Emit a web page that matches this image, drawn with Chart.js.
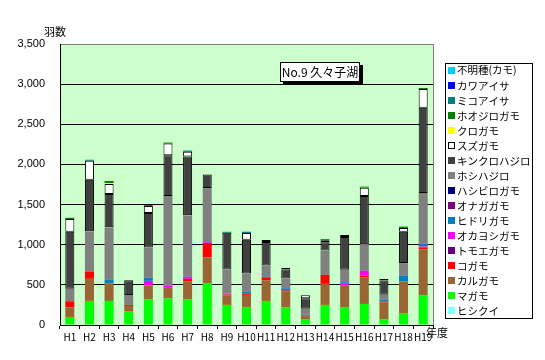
<!DOCTYPE html>
<html>
<head>
<meta charset="utf-8">
<script src="https://cdn.jsdelivr.net/npm/chart.js@4"></script>
<style>
  html, body { margin: 0; padding: 0; background: #fff; }
  #wrap { width: 545px; height: 360px; }
</style>
</head>
<body>
<div id="wrap"><canvas id="myChart" width="545" height="360"></canvas></div>
<script>
var years = ["H1","H2","H3","H4","H5","H6","H7","H8","H9","H10","H11","H12","H13","H14","H15","H16","H17","H18","H19"];
var yTicks = [0, 500, 1000, 1500, 2000, 2500, 3000, 3500];

// bottom to top
var hishikui   = [0,0,0,0,0,0,0,0,0,0,0,0,0,0,0,0,0,0,0];
var magamo     = [100,300,300,167,317,330,317,517,250,225,300,217,67,250,217,262,67,142,367];
var karugamo   = [120,275,220,71,175,142,225,325,117,150,254,200,37,262,279,329,212,400,575];
var kogamo     = [75,92,0,12,0,0,33,179,12,17,33,12,12,112,0,25,12,0,25];
var tomoegamo  = [0,0,0,0,0,0,0,0,0,0,0,12,0,0,0,0,0,0,0];
var okayoshi   = [0,0,0,0,58,17,25,10,12,0,0,0,0,0,25,58,0,0,12];
var hidori     = [0,0,42,0,37,0,0,12,0,25,12,17,12,0,12,0,25,71,37];
var onaga      = [0,0,0,0,0,0,0,0,0,0,0,0,0,0,0,0,0,0,0];
var hashibiro  = [0,0,0,0,0,0,0,0,0,0,0,0,0,0,0,0,0,0,0];
var hoshihajiro= [155,500,654,125,379,1117,766,662,300,225,142,121,75,304,154,333,62,158,629];
var kinkuro    = [710,642,416,183,430,508,733,171,458,421,292,112,129,104,408,600,175,392,1062];
var suzugamo   = [160,237,125,0,87,146,58,0,0,83,25,20,40,25,25,104,20,46,233];
var kurogamo   = [0,0,12,0,0,0,0,0,0,0,0,0,0,0,0,0,0,0,0];
var hoojiro    = [15,0,25,0,12,12,0,0,0,0,0,0,0,12,0,12,0,16,12];
var mikoaisa   = [0,12,0,0,0,0,16,0,12,16,0,0,0,0,0,0,0,0,0];
var kawaaisa   = [0,0,0,0,0,0,0,0,0,0,0,0,0,0,0,0,0,0,0];
var fumei      = [0,0,0,0,0,0,0,0,0,0,0,0,0,0,0,0,0,0,0];

function ds(label, data, color, border) {
  return {
    label: label, data: data, backgroundColor: color,
    borderColor: "#000", borderWidth: border ? 1 : 0, borderSkipped: false,
    barPercentage: 0.46, categoryPercentage: 1
  };
}

var datasets = [
  ds("ヒシクイ", hishikui, "#80FFFF"),
  ds("マガモ", magamo, "#00FF00"),
  ds("カルガモ", karugamo, "#996633"),
  ds("コガモ", kogamo, "#FF0000"),
  ds("トモエガモ", tomoegamo, "#660080"),
  ds("オカヨシガモ", okayoshi, "#FF00FF"),
  ds("ヒドリガモ", hidori, "#0080C0"),
  ds("オナガガモ", onaga, "#800080"),
  ds("ハシビロガモ", hashibiro, "#000080"),
  ds("ホシハジロ", hoshihajiro, "#808080"),
  ds("キンクロハジロ", kinkuro, "#404040", true),
  ds("スズガモ", suzugamo, "#FFFFFF", true),
  ds("クロガモ", kurogamo, "#FFFF00"),
  ds("ホオジロガモ", hoojiro, "#008000"),
  ds("ミコアイサ", mikoaisa, "#008080"),
  ds("カワアイサ", kawaaisa, "#0000FF"),
  ds("不明種(カモ)", fumei, "#00CCFF")
];

var jp = "'Noto Sans CJK JP', sans-serif";

var decor = {
  id: "decor",
  beforeDraw: function(chart) {
    var c = chart.ctx, a = chart.chartArea;
    c.save();
    c.fillStyle = "#CCFFCC";
    c.fillRect(a.left, a.top, a.right - a.left, a.bottom - a.top);
    c.restore();
  },
  afterDraw: function(chart) {
    var c = chart.ctx, a = chart.chartArea;
    c.save();
    // right border of plot
    c.strokeStyle = "#808080"; c.lineWidth = 1;
    c.beginPath(); c.moveTo(a.right + 0.5, a.top); c.lineTo(a.right + 0.5, a.bottom); c.stroke();

    // axis titles
    c.fillStyle = "#000";
    c.font = "11px " + jp;
    c.textAlign = "center"; c.textBaseline = "middle";
    c.fillText("羽数", 55, 32);
    c.fillText("年度", 437, 333);

    // title box
    c.fillStyle = "#000";
    c.fillRect(283, 65, 80, 20);
    c.fillStyle = "#fff";
    c.fillRect(280, 62, 80, 20);
    c.strokeStyle = "#000";
    c.strokeRect(280.5, 62.5, 79, 19);
    c.fillStyle = "#000";
    c.font = "12px " + jp;
    c.fillText("No.9 久々子湖", 320, 72);

    // legend
    c.fillStyle = "#fff";
    c.fillRect(445, 63, 87, 255);
    c.strokeStyle = "#000";
    c.strokeRect(445.5, 63.5, 87, 255);
    c.font = "10.5px " + jp;
    c.textAlign = "left";
    var items = chart.data.datasets.slice().reverse();
    items.forEach(function(d, i) {
      var y = 70 + i * 15.04;
      c.fillStyle = d.backgroundColor;
      c.fillRect(448, Math.round(y - 3.5), 7, 7);
      if (d.backgroundColor === "#FFFFFF") {
        c.strokeStyle = "#000";
        c.strokeRect(448.5, Math.round(y - 3.5) + 0.5, 6, 6);
      }
      c.fillStyle = "#000";
      c.fillText(d.label, 457, y + 0.5);
    });
    c.restore();
  }
};

new Chart(document.getElementById("myChart"), {
  type: "bar",
  data: { labels: years, datasets: datasets },
  options: {
    responsive: false,
    animation: false,
    layout: { padding: { top: 44, right: 112, left: 0, bottom: 0 } },
    plugins: { legend: { display: false }, tooltip: { enabled: false } },
    scales: {
      x: {
        stacked: true,
        afterFit: function(s) { s.height = 35; },
        border: { color: "#000" },
        grid: { drawOnChartArea: false, color: "#000", tickLength: 4, offset: true },
        ticks: { color: "#000", font: { size: 10, family: jp }, autoSkip: false, maxRotation: 0, padding: 2 }
      },
      y: {
        stacked: true,
        min: 0, max: 3500,
        afterFit: function(s) { s.width = 60; },
        afterBuildTicks: function(s) { s.ticks = yTicks.map(function(v) { return { value: v }; }); },
        border: { color: "#000" },
        grid: {
          drawTicks: false,
          color: function(ctx) { return ctx.tick && ctx.tick.value === 3500 ? "#808080" : "#000"; }
        },
        ticks: {
          color: "#000", padding: 15,
          font: { size: 11, family: "'Liberation Sans', sans-serif" },
          callback: function(v) { return v.toLocaleString("en-US"); }
        }
      }
    }
  },
  plugins: [decor]
});
</script>
</body>
</html>
